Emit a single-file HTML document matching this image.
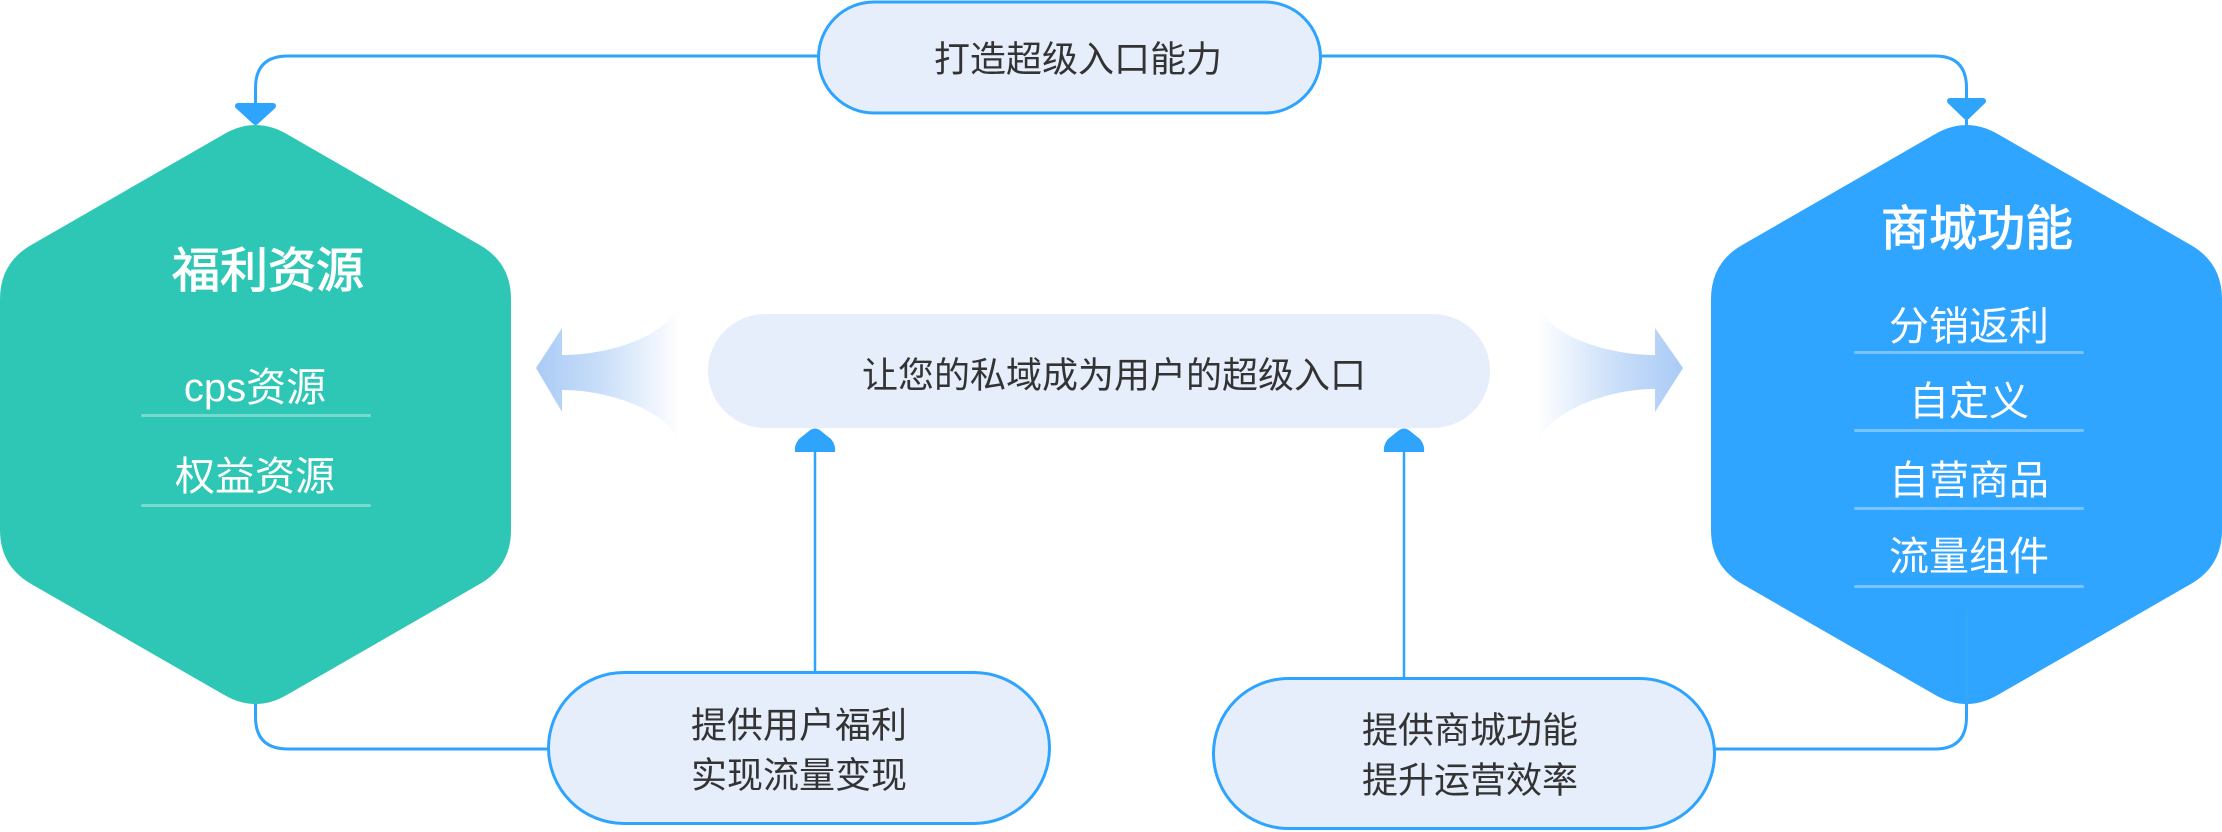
<!DOCTYPE html>
<html>
<head>
<meta charset="utf-8">
<style>
html,body{margin:0;padding:0;background:#ffffff;}
svg{display:block;}
</style>
</head>
<body>
<svg width="2222" height="832" viewBox="0 0 2222 832" xmlns="http://www.w3.org/2000/svg" style="font-family:'Liberation Sans','Noto Sans CJK SC',sans-serif;">
  <defs>
    <linearGradient id="gl" gradientUnits="userSpaceOnUse" x1="536" y1="0" x2="680" y2="0">
      <stop offset="0" stop-color="#aacbf6" stop-opacity="1"/>
      <stop offset="0.45" stop-color="#c9def9" stop-opacity="1"/>
      <stop offset="1" stop-color="#ffffff" stop-opacity="1"/>
    </linearGradient>
    <linearGradient id="gr" gradientUnits="userSpaceOnUse" x1="1683" y1="0" x2="1537" y2="0">
      <stop offset="0" stop-color="#aacbf6" stop-opacity="1"/>
      <stop offset="0.45" stop-color="#c9def9" stop-opacity="1"/>
      <stop offset="1" stop-color="#ffffff" stop-opacity="1"/>
    </linearGradient>
  </defs>

  <!-- Connectors -->
  <g fill="none" stroke="#2fa4fd" stroke-width="3">
    <path d="M 819 56 L 288 56 Q 255.5 56 255.5 88 L 255.5 106"/>
    <path d="M 1321 56 L 1935 56 Q 1966.5 56 1966.5 88 L 1966.5 125"/>
    <path d="M 548 749 L 288 749 Q 255.5 749 255.5 717 L 255.5 700"/>
    <path d="M 1714 749 L 1935 749 Q 1966.5 749 1966.5 717 L 1966.5 700"/>
  </g>
  <g fill="none" stroke="#2fa4fd" stroke-width="2.5">
    <path d="M 815 672 L 815 448"/>
    <path d="M 1404 678 L 1404 448"/>
  </g>

  <!-- Arrowheads -->
  <g fill="#2fa4fd" stroke="#2fa4fd" stroke-width="6" stroke-linejoin="round">
    <polygon points="238,106 273,106 255.5,122"/>
    <polygon points="1950,101 1983,101 1966.5,117"/>
  </g>
  <g fill="#2fa4fd">
    <path d="M 795 452 Q 794 445 799 439 L 809 431 Q 815 426 821 431 L 831 439 Q 836 445 835 452 Z"/>
    <path d="M 1384 452 Q 1383 445 1388 439 L 1398 431 Q 1404 426 1410 431 L 1420 439 Q 1425 445 1424 452 Z"/>
  </g>

  <!-- Left hexagon -->
  <path fill="#2ec7b6" d="M 286.7 134 L 479.8 245 Q 511 263 511 299 L 511 530 Q 511 566 479.8 584 L 286.7 695 Q 255.5 713 224.3 695 L 31.2 584 Q 0 566 0 530 L 0 299 Q 0 263 31.2 245 L 224.3 134 Q 255.5 116 286.7 134 Z"/>
  <!-- Right hexagon -->
  <path fill="#2fa5ff" transform="translate(1711,0)" d="M 286.7 134 L 479.8 245 Q 511 263 511 299 L 511 530 Q 511 566 479.8 584 L 286.7 695 Q 255.5 713 224.3 695 L 31.2 584 Q 0 566 0 530 L 0 299 Q 0 263 31.2 245 L 224.3 134 Q 255.5 116 286.7 134 Z"/>
  <line x1="1966.5" y1="610" x2="1966.5" y2="705" stroke="#3ab3ea" stroke-width="1.2" opacity="0.6"/>

  <!-- Hexagon texts -->
  <g fill="#ffffff" text-anchor="middle">
    <text x="268" y="287" font-size="48" stroke="#ffffff" stroke-width="1.1">福利资源</text>
    <text x="255" y="401" font-size="40">cps资源</text>
    <text x="255" y="490" font-size="40">权益资源</text>

    <text x="1977" y="245" font-size="48" stroke="#ffffff" stroke-width="1.1">商城功能</text>
    <text x="1969" y="340" font-size="40">分销返利</text>
    <text x="1969" y="415" font-size="40">自定义</text>
    <text x="1969" y="494" font-size="40">自营商品</text>
    <text x="1969" y="570" font-size="40">流量组件</text>
  </g>
  <g fill="#ffffff" opacity="0.35">
    <rect x="141" y="414" width="230" height="3" rx="1.5"/>
    <rect x="141" y="504" width="230" height="3" rx="1.5"/>
    <rect x="1854" y="351" width="230" height="3" rx="1.5"/>
    <rect x="1854" y="429" width="230" height="3" rx="1.5"/>
    <rect x="1854" y="507" width="230" height="3" rx="1.5"/>
    <rect x="1854" y="585" width="230" height="3" rx="1.5"/>
  </g>

  <!-- Gradient arrows -->
  <path fill="url(#gl)" d="M 536 368 L 562 328 L 562 355 C 617 355 678 330 678 300 L 678 447 C 678 417 617 390 562 390 L 562 412 Z"/>
  <path fill="url(#gr)" d="M 1683 368 L 1655 328 L 1655 355 C 1600 355 1538 330 1538 300 L 1538 448 C 1538 418 1600 389 1655 389 L 1655 412 Z"/>

  <!-- Pills -->
  <rect x="818.5" y="2" width="502" height="111" rx="55.5" ry="55.5" fill="#e6eefc" stroke="#2fa4fd" stroke-width="3"/>
  <rect x="708" y="314" width="782" height="114" rx="57" ry="57" fill="#e6eefc"/>
  <rect x="548.5" y="672.5" width="501" height="151" rx="75.5" ry="75.5" fill="#e6eefc" stroke="#2fa4fd" stroke-width="3"/>
  <rect x="1213.5" y="678.5" width="501" height="150" rx="75" ry="75" fill="#e6eefc" stroke="#2fa4fd" stroke-width="3"/>

  <!-- Pill texts -->
  <g fill="#333333" text-anchor="middle" font-size="36">
    <text x="1078" y="71.5">打造超级入口能力</text>
    <text x="1114" y="387.5">让您的私域成为用户的超级入口</text>
    <text x="799" y="737.5">提供用户福利</text>
    <text x="799" y="787.5">实现流量变现</text>
    <text x="1470" y="742.5">提供商城功能</text>
    <text x="1470" y="792.5">提升运营效率</text>
  </g>
</svg>
</body>
</html>
